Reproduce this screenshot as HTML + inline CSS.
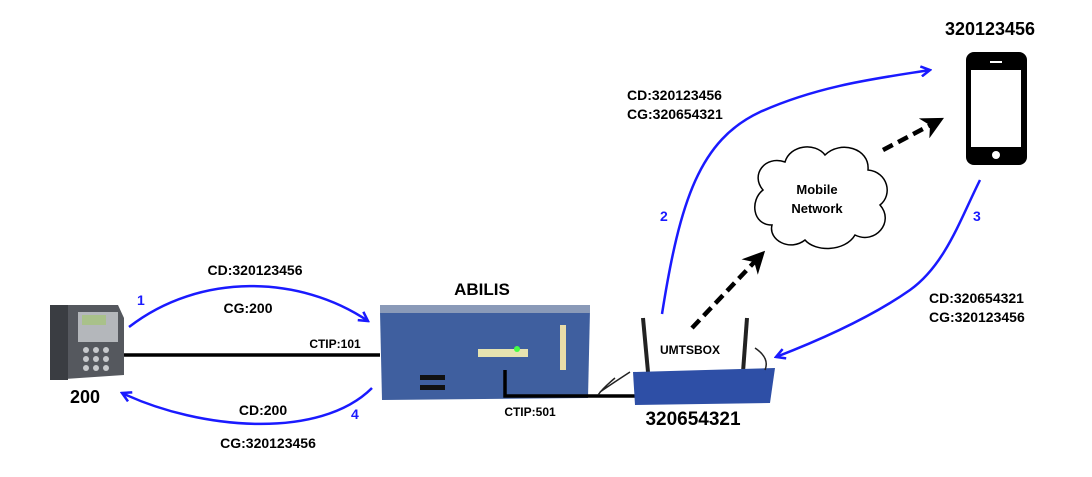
<!DOCTYPE html>
<html><head><meta charset="utf-8"><style>
html,body{margin:0;padding:0;background:#fff}
svg{display:block}
text{font-family:"Liberation Sans",Arial,sans-serif;font-weight:bold}
</style></head><body>
<svg width="1092" height="477" viewBox="0 0 1092 477" xmlns="http://www.w3.org/2000/svg">
<defs>
<marker id="ab" viewBox="0 0 12 12" refX="10" refY="6" markerWidth="12" markerHeight="12" markerUnits="userSpaceOnUse" orient="auto"><path d="M1,1 L10,6 L1,11" fill="none" stroke="#1a1aff" stroke-width="2.5"/></marker>
<marker id="ak" viewBox="0 0 10 10" refX="8" refY="5" markerWidth="5" markerHeight="5" orient="auto"><path d="M0,0 L10,5 L0,10 L3,5 Z" fill="#000"/></marker>
</defs>
<g>
<path d="M50,312 L60,305 L118,305 L124,318 L124,375 L50,380 Z" fill="#55585e"/>
<rect x="50" y="305" width="18" height="75" fill="#3a3d42"/>
<rect x="78" y="312" width="40" height="30" fill="#b4b7bb"/>
<rect x="82" y="315" width="24" height="10" fill="#a9c18a"/>
<g fill="#c8cacd">
<circle cx="86" cy="350" r="3"/><circle cx="96" cy="350" r="3"/><circle cx="106" cy="350" r="3"/>
<circle cx="86" cy="359" r="3"/><circle cx="96" cy="359" r="3"/><circle cx="106" cy="359" r="3"/>
<circle cx="86" cy="368" r="3"/><circle cx="96" cy="368" r="3"/><circle cx="106" cy="368" r="3"/>
</g>
</g>
<text x="85" y="403" font-size="18" text-anchor="middle">200</text>
<line x1="124" y1="355" x2="380" y2="355" stroke="#000" stroke-width="3.5"/>
<text x="335" y="348" font-size="12" text-anchor="middle">CTIP:101</text>
<path d="M380,312 L590,310 L588,398 L382,400 Z" fill="#3f5f9f"/>
<rect x="380" y="305" width="210" height="8" fill="#8a9ab8"/>
<rect x="478" y="349" width="50" height="8" fill="#e6e3b0"/>
<rect x="560" y="325" width="6" height="45" fill="#e8dca8"/>
<rect x="420" y="375" width="25" height="5" fill="#111"/>
<rect x="420" y="385" width="25" height="5" fill="#111"/>
<circle cx="517" cy="349" r="3" fill="#4f4"/>
<text x="482" y="295" font-size="17" text-anchor="middle">ABILIS</text>
<path d="M505,370 L505,396 L640,396" fill="none" stroke="#000" stroke-width="3.5"/>
<text x="530" y="416" font-size="12" text-anchor="middle">CTIP:501</text>
<line x1="643" y1="318" x2="648" y2="372" stroke="#222" stroke-width="4"/>
<line x1="747" y1="318" x2="743" y2="372" stroke="#222" stroke-width="4"/>
<path d="M633,372 L775,368 L770,403 L635,405 Z" fill="#2e4fa6"/>
<path d="M630,372 Q610,385 600,392 M615,378 Q603,388 598,395 M755,348 Q770,358 765,370" stroke="#222" stroke-width="1.5" fill="none"/>
<text x="690" y="354" font-size="12" text-anchor="middle">UMTSBOX</text>
<text x="693" y="425" font-size="19" text-anchor="middle">320654321</text>
<path d="M763,190 C750,175 765,155 785,162 C790,145 815,142 825,155 C840,140 870,148 868,170 C888,172 893,195 880,205 C895,222 875,245 855,235 C845,252 815,252 805,240 C790,252 768,240 772,225 C752,225 750,200 763,190 Z" fill="#fff" stroke="#000" stroke-width="1.5"/>
<text x="817" y="194" font-size="13" text-anchor="middle">Mobile</text>
<text x="817" y="213" font-size="13" text-anchor="middle">Network</text>
<rect x="966" y="52" width="61" height="113" rx="8" fill="#000"/>
<rect x="971" y="70" width="50" height="77" fill="#fff"/>
<rect x="990" y="61" width="12" height="2" fill="#fff"/>
<circle cx="996" cy="155" r="4" fill="#fff"/>
<text x="990" y="35" font-size="18" text-anchor="middle">320123456</text>
<line x1="692" y1="328" x2="762" y2="254" stroke="#000" stroke-width="4.5" stroke-dasharray="11,6" marker-end="url(#ak)"/>
<line x1="883" y1="150" x2="940" y2="120" stroke="#000" stroke-width="4.5" stroke-dasharray="11,6" marker-end="url(#ak)"/>
<g fill="none" stroke="#1a1aff" stroke-width="2.5">
<path d="M129,327 C200,272 300,275 368,321" marker-end="url(#ab)"/>
<path d="M372,388 C320,440 200,430 122,393" marker-end="url(#ab)"/>
<path d="M662,314 C680,200 700,140 760,112 C820,85 880,78 930,70" marker-end="url(#ab)"/>
<path d="M980,180 C960,220 945,265 910,290 C870,318 820,340 776,357" marker-end="url(#ab)"/>
</g>
<g fill="#1a1aff" font-size="14">
<text x="137" y="305">1</text><text x="351" y="419">4</text>
<text x="660" y="221">2</text><text x="973" y="221">3</text>
</g>
<g font-size="14">
<text x="255" y="275" text-anchor="middle">CD:320123456</text>
<text x="248" y="313" text-anchor="middle">CG:200</text>
<text x="263" y="415" text-anchor="middle">CD:200</text>
<text x="268" y="448" text-anchor="middle">CG:320123456</text>
<text x="627" y="100">CD:320123456</text>
<text x="627" y="119">CG:320654321</text>
<text x="929" y="303">CD:320654321</text>
<text x="929" y="322">CG:320123456</text>
</g>
</svg>
</body></html>
